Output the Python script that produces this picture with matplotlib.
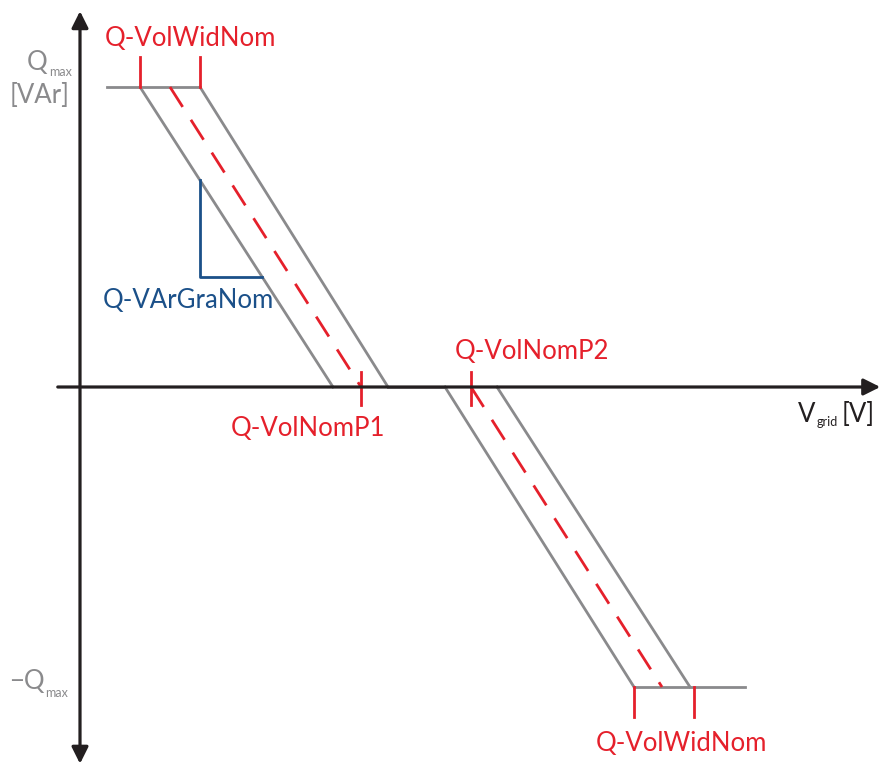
import matplotlib.pyplot as plt

# band edges (V in arbitrary units, Q normalised to Q_max)
top_flat_v = [27, 120]
upper_left_v = [60, 253]
upper_right_v = [120, 308]
upper_mid_v = [90, 281]
upper_q = [1, 0]

zero_flat_v = [308, 365]

lower_left_v = [365, 554]
lower_right_v = [417, 610]
lower_mid_v = [391, 582]
lower_q = [0, -1]
bottom_flat_v = [554, 665]

tick_top_v = [60, 120]
tick_mid_v = [281, 391]
tick_bot_v = [554, 614]

slope_v = [120, 120, 182]
slope_q = [0.69, 0.367, 0.367]

gray = '#8a8a8c'
red = '#e5202b'
blue = '#1b5089'
dark = '#231f20'
font = 'Lato'

fig = plt.figure(figsize=(8.83, 7.71), dpi=100)
ax = fig.add_axes([0, 0, 1, 1])
ax.set_xlim(-80, 803)
ax.set_ylim(-1.28, 1.29)
ax.axis('off')

lw = 2.0
ax.plot(top_flat_v, [1, 1], color=gray, lw=lw)
ax.plot(upper_left_v, upper_q, color=gray, lw=lw)
ax.plot(upper_right_v, upper_q, color=gray, lw=lw)
ax.plot(zero_flat_v, [0, 0], color=gray, lw=lw)
ax.plot(lower_left_v, lower_q, color=gray, lw=lw)
ax.plot(lower_right_v, lower_q, color=gray, lw=lw)
ax.plot(bottom_flat_v, [-1, -1], color=gray, lw=lw)

ax.plot(upper_mid_v, upper_q, color=red, lw=lw, dashes=(8.5, 5.5))
ax.plot(lower_mid_v, lower_q, color=red, lw=lw, dashes=(8.5, 5.5))

ax.plot(slope_v, slope_q, color=blue, lw=lw)

# axes with arrows
ax.annotate('', xy=(803, 0), xytext=(-25, 0),
            arrowprops=dict(arrowstyle='-|>', lw=2.3, color=dark, mutation_scale=25))
ax.annotate('', xy=(0, 1.262), xytext=(0, -1.265),
            arrowprops=dict(arrowstyle='<|-|>', lw=2.3, color=dark, mutation_scale=25))

# red ticks
for v in tick_top_v:
    ax.plot([v, v], [1, 1.1], color=red, lw=lw)
for v in tick_mid_v:
    ax.plot([v, v], [0.05, -0.06], color=red, lw=lw)
for v in tick_bot_v:
    ax.plot([v, v], [-1, -1.1], color=red, lw=lw)

fs = 18.5
ax.text(110, 1.163, 'Q-VolWidNom', color=red, fontsize=fs, family=font, ha='center', va='center')
ax.text(601, -1.187, 'Q-VolWidNom', color=red, fontsize=fs, family=font, ha='center', va='center')
ax.text(228, -0.137, 'Q-VolNomP1', color=red, fontsize=fs, family=font, ha='center', va='center')
ax.text(452, 0.117, 'Q-VolNomP2', color=red, fontsize=fs, family=font, ha='center', va='center')
ax.text(108, 0.29, 'Q-VArGraNom', color=blue, fontsize=fs, family=font, ha='center', va='center')

ax.text(-33, 1.083, 'Q', color=gray, fontsize=fs, family=font, ha='right', va='center')
ax.text(-31, 1.05, 'max', color=gray, fontsize=9, family=font, ha='left', va='center')
ax.text(-40, 0.973, '[VAr]', color=gray, fontsize=fs, family=font, ha='center', va='center')

ax.text(-35, -0.983, '\u2212Q', color=gray, fontsize=fs, family=font, ha='right', va='center')
ax.text(-35, -1.02, 'max', color=gray, fontsize=9, family=font, ha='left', va='center')

ax.text(735, -0.093, 'V', color=dark, fontsize=fs, family=font, ha='right', va='center')
ax.text(737, -0.117, 'grid', color=dark, fontsize=9, family=font, ha='left', va='center')
ax.text(762, -0.093, '[V]', color=dark, fontsize=fs, family=font, ha='left', va='center')

fig.savefig('out.png', dpi=100)
